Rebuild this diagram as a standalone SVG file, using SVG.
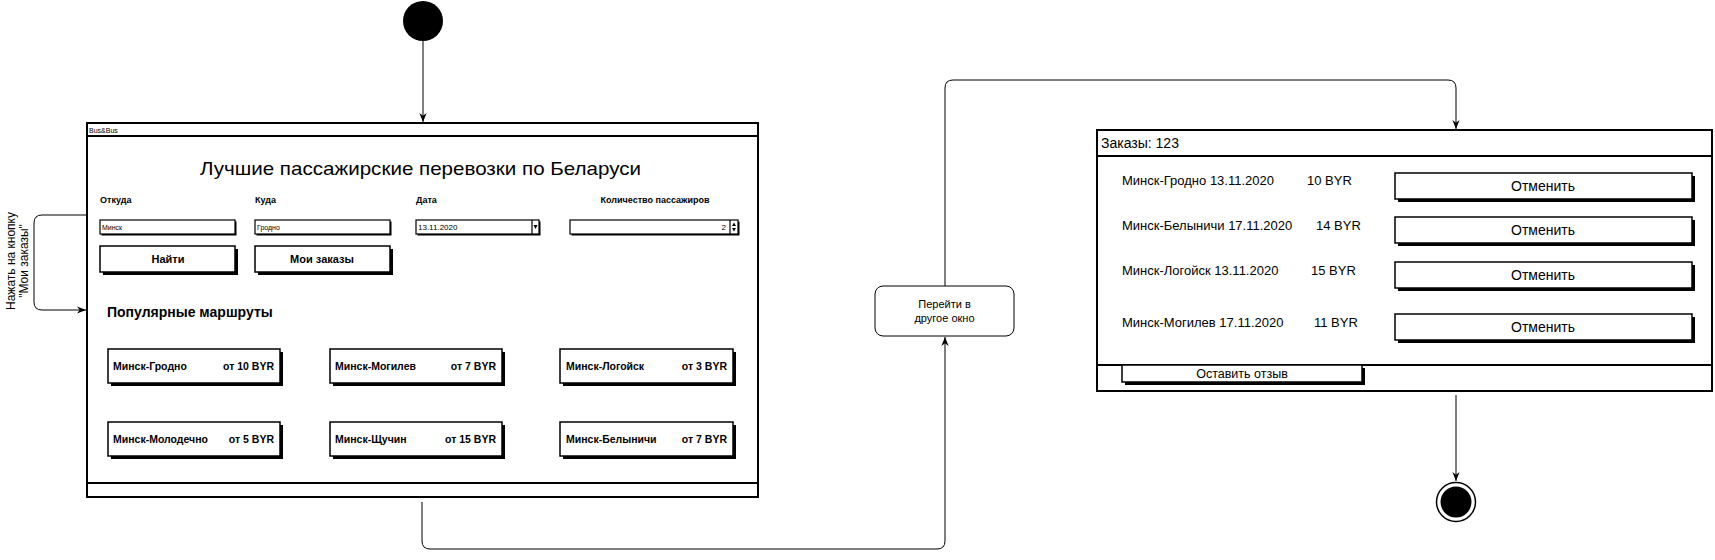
<svg xmlns="http://www.w3.org/2000/svg" width="1715" height="560" viewBox="0 0 1715 560">
<defs>
<style>
.win{fill:#fff;stroke:#000;stroke-width:2}
.ln{fill:none;stroke:#000;stroke-width:2}
.btn{fill:#fff;stroke:#000;stroke-width:1.5}
.sh{fill:#000}
.fld{fill:#fff;stroke:#000;stroke-width:1.2}
.con{fill:none;stroke:#000;stroke-width:1}
.t{font-family:"Liberation Sans",Arial,sans-serif;fill:#000}
.b{font-weight:bold}
.m{text-anchor:middle}
.e{text-anchor:end}
</style>
<marker id="arr" viewBox="0 0 10 10" refX="10" refY="5" markerWidth="9" markerHeight="9" markerUnits="userSpaceOnUse" orient="auto">
<path d="M0,1 L10,5 L0,9 L3,5 z" fill="#000"/>
</marker>
</defs>
<rect width="1715" height="560" fill="#fff"/>

<g id="connectors">
<path class="con" d="M423 41 L423 122" marker-end="url(#arr)"/>
<path class="con" d="M86 215 L42 215 Q34 215 34 223 L34 302 Q34 310 42 310 L86 310" marker-end="url(#arr)"/>
<path class="con" d="M422 502 L422 541 Q422 549 430 549 L937 549 Q945 549 945 541 L945 337" marker-end="url(#arr)"/>
<path class="con" d="M945 286 L945 88 Q945 80 953 80 L1448 80 Q1456 80 1456 88 L1456 129" marker-end="url(#arr)"/>
<path class="con" d="M1456 395 L1456 481" marker-end="url(#arr)"/>
</g>

<g id="start">
<circle cx="423" cy="21" r="20" fill="#000"/>
</g>

<g id="loop-label">
<text class="t m" font-size="12" transform="translate(0,261) rotate(-90)"><tspan x="0" y="15">Нажать на кнопку</tspan><tspan x="0" y="28">"Мои заказы"</tspan></text>
</g>

<g id="main-window">
<rect class="win" x="87" y="123" width="671" height="374"/>
<line class="ln" x1="87" y1="136" x2="758" y2="136"/>
<line class="ln" x1="87" y1="483" x2="758" y2="483"/>
<text class="t" x="89" y="133" font-size="7">Bus&amp;Bus</text>
<text class="t" x="200" y="175" font-size="19" textLength="441" lengthAdjust="spacingAndGlyphs">Лучшие пассажирские перевозки по Беларуси</text>
<text class="t b" x="100" y="203" font-size="9">Откуда</text>
<text class="t b" x="255" y="203" font-size="9">Куда</text>
<text class="t b" x="416" y="203" font-size="9">Дата</text>
<text class="t b m" x="655" y="203" font-size="9">Количество пассажиров</text>

<rect class="sh" x="101.5" y="221.5" width="135" height="14"/>
<rect class="fld" x="100" y="220" width="135" height="14"/>
<text class="t" x="102" y="229.5" font-size="7">Минск</text>
<rect class="sh" x="256.5" y="221.5" width="135" height="14"/>
<rect class="fld" x="255" y="220" width="135" height="14"/>
<text class="t" x="257" y="229.5" font-size="7">Гродно</text>

<rect class="sh" x="417.5" y="221.5" width="123" height="14"/>
<rect class="fld" x="416" y="220" width="123" height="14"/>
<line class="fld" x1="532" y1="220" x2="532" y2="234"/>
<path d="M533.5 225 L537.5 225 L535.5 229 z" fill="#000"/>
<text class="t" x="418" y="230" font-size="8">13.11.2020</text>

<rect class="sh" x="571.5" y="221.5" width="168" height="14"/>
<rect class="fld" x="570" y="220" width="168" height="14"/>
<line class="fld" x1="730" y1="220" x2="730" y2="234"/>
<path d="M732 226 L736 226 L734 222.5 z M732 228 L736 228 L734 231.5 z" fill="#000"/>
<text class="t e" x="726" y="230" font-size="8">2</text>

<rect class="sh" x="103" y="249" width="135" height="26"/>
<rect class="btn" x="100" y="246" width="135" height="26"/>
<text class="t b m" x="168" y="263" font-size="11">Найти</text>
<rect class="sh" x="258" y="249" width="135" height="26"/>
<rect class="btn" x="255" y="246" width="135" height="26"/>
<text class="t b m" x="322" y="263" font-size="11">Мои заказы</text>

<text class="t b" x="107" y="317" font-size="14">Популярные маршруты</text>
</g>

<g id="route-grodno">
<rect class="sh" x="111" y="352" width="172" height="34"/>
<rect class="btn" x="108" y="349" width="172" height="34"/>
<text class="t b" x="113" y="370" font-size="10.5">Минск-Гродно</text>
<text class="t b e" x="274" y="370" font-size="10.5">от 10 BYR</text>
</g>
<g id="route-mogilev">
<rect class="sh" x="333" y="352" width="172" height="34"/>
<rect class="btn" x="330" y="349" width="172" height="34"/>
<text class="t b" x="335" y="370" font-size="10.5">Минск-Могилев</text>
<text class="t b e" x="496" y="370" font-size="10.5">от 7 BYR</text>
</g>
<g id="route-logoysk">
<rect class="sh" x="563" y="352" width="173" height="34"/>
<rect class="btn" x="560" y="349" width="173" height="34"/>
<text class="t b" x="566" y="370" font-size="10.5">Минск-Логойск</text>
<text class="t b e" x="727" y="370" font-size="10.5">от 3 BYR</text>
</g>
<g id="route-molodechno">
<rect class="sh" x="111" y="425" width="172" height="34"/>
<rect class="btn" x="108" y="422" width="172" height="34"/>
<text class="t b" x="113" y="443" font-size="10.5">Минск-Молодечно</text>
<text class="t b e" x="274" y="443" font-size="10.5">от 5 BYR</text>
</g>
<g id="route-shchuchin">
<rect class="sh" x="333" y="425" width="172" height="34"/>
<rect class="btn" x="330" y="422" width="172" height="34"/>
<text class="t b" x="335" y="443" font-size="10.5">Минск-Щучин</text>
<text class="t b e" x="496" y="443" font-size="10.5">от 15 BYR</text>
</g>
<g id="route-belynichi">
<rect class="sh" x="563" y="425" width="173" height="34"/>
<rect class="btn" x="560" y="422" width="173" height="34"/>
<text class="t b" x="566" y="443" font-size="10.5">Минск-Белыничи</text>
<text class="t b e" x="727" y="443" font-size="10.5">от 7 BYR</text>
</g>

<g id="transition">
<rect x="875" y="286" width="139" height="50" rx="8" fill="#fff" stroke="#000" stroke-width="1"/>
<text class="t m" x="944.5" y="308" font-size="11">Перейти в</text>
<text class="t m" x="944.5" y="322" font-size="11">другое окно</text>
</g>

<g id="orders-window">
<rect class="win" x="1097" y="130" width="615" height="261" stroke-width="2.5"/>
<line class="ln" x1="1097" y1="156" x2="1712" y2="156"/>
<line class="ln" x1="1097" y1="365" x2="1712" y2="365"/>
<text class="t" x="1101" y="148" font-size="14">Заказы: 123</text>

<text class="t" x="1122" y="185" font-size="13">Минск-Гродно 13.11.2020</text>
<text class="t" x="1307" y="185" font-size="13">10 BYR</text>
<rect class="sh" x="1398" y="176" width="297" height="26"/>
<rect class="btn" x="1395" y="173" width="297" height="26"/>
<text class="t m" x="1543" y="190.5" font-size="14">Отменить</text>

<text class="t" x="1122" y="230" font-size="13">Минск-Белыничи 17.11.2020</text>
<text class="t" x="1316" y="230" font-size="13">14 BYR</text>
<rect class="sh" x="1398" y="220" width="297" height="26"/>
<rect class="btn" x="1395" y="217" width="297" height="26"/>
<text class="t m" x="1543" y="234.5" font-size="14">Отменить</text>

<text class="t" x="1122" y="275" font-size="13">Минск-Логойск 13.11.2020</text>
<text class="t" x="1311" y="275" font-size="13">15 BYR</text>
<rect class="sh" x="1398" y="265" width="297" height="26"/>
<rect class="btn" x="1395" y="262" width="297" height="26"/>
<text class="t m" x="1543" y="279.5" font-size="14">Отменить</text>

<text class="t" x="1122" y="327" font-size="13">Минск-Могилев 17.11.2020</text>
<text class="t" x="1314" y="327" font-size="13">11 BYR</text>
<rect class="sh" x="1398" y="317" width="297" height="26"/>
<rect class="btn" x="1395" y="314" width="297" height="26"/>
<text class="t m" x="1543" y="331.5" font-size="14">Отменить</text>

<rect class="sh" x="1125" y="368" width="240" height="17"/>
<rect class="btn" x="1122" y="365" width="240" height="17"/>
<text class="t m" x="1242" y="378" font-size="12.5">Оставить отзыв</text>
</g>

<g id="end">
<circle cx="1456" cy="502" r="19.5" fill="#fff" stroke="#000" stroke-width="1.5"/>
<circle cx="1456" cy="502" r="15.5" fill="#000"/>
</g>
</svg>
